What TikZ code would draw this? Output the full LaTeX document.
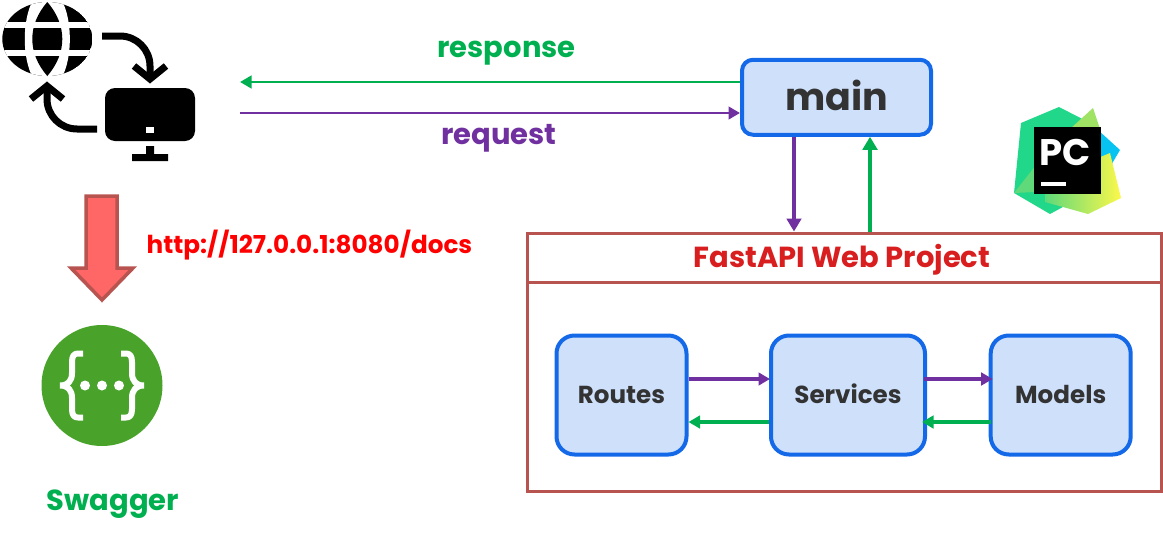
\documentclass[tikz,border=0pt]{standalone}
\usepackage{fontspec}
\setmainfont{Poppins}
\usetikzlibrary{arrows.meta}
\definecolor{boxfill}{HTML}{CFE0FB}
\definecolor{boxline}{HTML}{1469E8}
\definecolor{projline}{HTML}{B85450}
\definecolor{arrowfill}{HTML}{FF6666}
\definecolor{titlecol}{HTML}{D81E1E}
\definecolor{reqcol}{HTML}{7030A0}
\definecolor{respcol}{HTML}{00B050}
\definecolor{inktext}{HTML}{333333}
\definecolor{swagcol}{HTML}{49A32B}
\definecolor{pcgreen}{HTML}{21D789}
\definecolor{pclight}{HTML}{5FD97A}
\definecolor{pclime}{HTML}{A0E264}
\definecolor{pcblue}{HTML}{07C3F2}
\definecolor{pcyellow}{HTML}{FCF84A}
\tikzstyle{LAYER}+=[draw=boxline,fill=boxfill,line width=4pt,rounded corners=18pt,text=inktext,font=\bfseries\fontsize{24.6}{24.6}\selectfont,text height=17pt,text depth=1pt,inner sep=0pt,minimum height=119pt]
\tikzstyle{PROJ}+=[draw=projline,line width=3pt,minimum width=634pt,inner sep=0pt]
\tikzstyle{LBL}+=[anchor=base,inner sep=0pt,font=\bfseries\fontsize{29}{29}\selectfont]
\tikzstyle{REQ}+=[draw=reqcol,line width=3.2pt,-{Triangle[length=11.5pt,width=12.5pt]}]
\tikzstyle{RESP}+=[draw=respcol,line width=3.2pt,-{Triangle[length=11.5pt,width=12.5pt]}]
\tikzstyle{ICON}+=[line width=7pt,miter limit=10]

\begin{document}
\begin{tikzpicture}[x=1pt,y=-1pt]
        \useasboundingbox (0,0) rectangle (1163,536);

        % globe and monitor
        \begin{scope}
            \begin{scope}
                \clip (47.3,39) ellipse (45 and 37);
                \fill (47.3,39) ellipse (45 and 37);
                \fill[white] (33,0) .. controls (22,20) and (22,58) .. (33,78) -- (61.6,78) .. controls (72.6,58) and (72.6,20) .. (61.6,0) -- cycle;
                \fill (47.3,2) .. controls (27.3,25) and (27.3,53) .. (47.3,76) .. controls (67.3,53) and (67.3,25) .. (47.3,2) -- cycle;
                \draw[white,line width=6.3pt] (0,24.8) -- (95,24.8) (0,53) -- (95,53);
            \end{scope}
            \fill[rounded corners=10pt] (105,88) rectangle (195,141);
            \fill[white] (146,127) rectangle (154,133);
            \fill (146,146) rectangle (154,155) (132,154) rectangle (168,161);
            \draw[ICON] (102,36) -- (120,36) arc[start angle=-90,end angle=0,radius=30] -- (150,79);
            \draw[ICON] (134,66) -- (150,79) -- (166,66);
            \draw[ICON] (97,129) -- (77,129) arc[start angle=90,end angle=180,radius=30] -- (47,86);
            \draw[ICON] (31,99) -- (47,86) -- (63,99);
        \end{scope}

        % down arrow
        \draw[draw=projline,fill=arrowfill,line width=3.5pt,line join=miter] (86,196) -- (117,196) -- (117,268) -- (133,268) -- (102,300) -- (71,268) -- (86,268) -- cycle;
        \node[LBL,text=red,font=\bfseries\fontsize{24.7}{24.7}\selectfont] (docs) at (309.5,253) {http://127.0.0.1:8080/docs};

        % swagger
        \fill[swagcol] (102,385.5) circle (60.5);
        \foreach \sgn in {-1,1} {
            \draw[white,line width=6pt,line join=bevel] ({102+\sgn*19},353.5) -- ({102+\sgn*24},353.5) .. controls ({102+\sgn*28},353.5) and ({102+\sgn*30},356) .. ({102+\sgn*30},362)
                -- ({102+\sgn*30},373) .. controls ({102+\sgn*30},381) and ({102+\sgn*34},385.5) .. ({102+\sgn*42},385.5)
                .. controls ({102+\sgn*34},385.5) and ({102+\sgn*30},390) .. ({102+\sgn*30},398) -- ({102+\sgn*30},409)
                .. controls ({102+\sgn*30},415) and ({102+\sgn*28},417.5) .. ({102+\sgn*24},417.5) -- ({102+\sgn*19},417.5);
        }
        \foreach \dx in {-17,0,17} \fill[white] ({102+\dx},385.5) circle (5);
        \node[LBL,text=respcol] (swagger) at (113,510) {Swagger};

        % pycharm logo
        \begin{scope}
            \fill[pcblue] (1098,130) -- (1120,150) -- (1110,167) -- (1098,165) -- cycle;
            \fill[pcgreen] (1021,123) -- (1059,107) -- (1100,128) -- (1085,195) -- (1050,214) -- (1014,193) -- cycle;
            \fill[pclight] (1014,193) -- (1036,165) -- (1036,192) -- cycle;
            \fill[pclime] (1093,108) -- (1070,129) -- (1100,129) -- cycle;
            \shade[left color=pclight,middle color=pcyellow,right color=pcyellow] (1045,202) -- (1088,214) -- (1121,198) -- (1110,153) -- (1098,158) -- (1098,192) -- (1045,192) -- cycle;
            \fill (1034.3,127.3) rectangle (1100.7,194);
            \node[anchor=base,inner sep=0pt,text=white,font=\bfseries\fontsize{37}{37}\selectfont] (pc) at (1065,165) {PC};
            \fill[white] (1040.5,181.7) rectangle (1065.7,185.7);
        \end{scope}

        % boxes
        \node[LAYER,rounded corners=11pt,minimum width=189pt,minimum height=75pt,font=\bfseries\fontsize{38}{38}\selectfont,text height=26pt,text depth=0.5pt] (main) at (836.5,97.25) {main};
        \node[PROJ,minimum height=49pt,text=titlecol,font=\bfseries\fontsize{29}{29}\selectfont,text height=20pt,text depth=1pt] (title) at (844.5,257.5) {\hspace*{-5pt}FastAPI Web Project};
        \node[PROJ,minimum height=209pt] (project) at (844.5,386.5) {};
        \node[LAYER,minimum width=130pt] (routes) at (621.5,395) {Routes};
        \node[LAYER,minimum width=154pt] (services) at (848,395) {Services};
        \node[LAYER,minimum width=140pt] (models) at (1060.7,395) {Models};

        % connectors
        \coordinate (client out) at (240,113);
        \coordinate (client in) at (240,82);
        \draw[RESP,line width=2.8pt] ([yshift=15.25pt]main.west) -- (client in);
        \draw[REQ,line width=2.8pt] (client out) -- ([yshift=-15.75pt]main.west);
        \node[LBL,text=respcol] (response) at (506.5,57) {response};
        \node[LBL,text=reqcol] (request) at (499,144) {request};
        \draw[REQ,line width=4.7pt,-{Triangle[length=13pt,width=14.5pt]}] ([xshift=-42.5pt]main.south) -- ([xshift=-50.5pt]title.north);
        \draw[RESP,line width=4.7pt,-{Triangle[length=13pt,width=14.5pt]}] ([xshift=25.5pt]title.north) -- ([xshift=33.5pt]main.south);
        \draw[REQ] ([yshift=16pt]routes.east) -- ([yshift=16pt,xshift=1pt]services.west);
        \draw[RESP] ([yshift=-27pt]services.west) -- ([yshift=-27pt]routes.east);
        \draw[REQ] ([yshift=16pt,xshift=-3pt]services.east) -- ([yshift=16pt,xshift=4pt]models.west);
        \draw[RESP] ([yshift=-27pt,xshift=2pt]models.west) -- ([yshift=-27pt,xshift=-5pt]services.east);

    \end{tikzpicture}
\end{document}
